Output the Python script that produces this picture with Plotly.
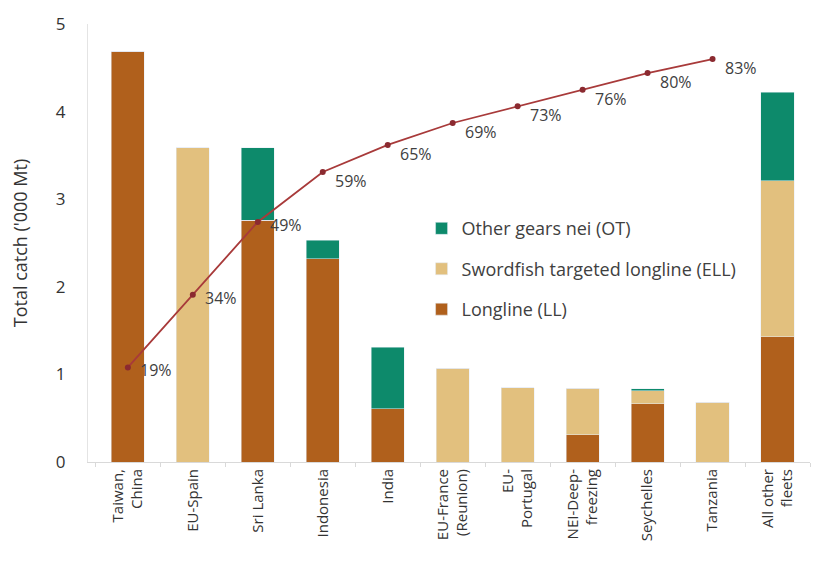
import plotly.graph_objects as go

fleets = ["Taiwan,<br>China", "EU-Spain", "Sri Lanka", "Indonesia", "India",
          "EU-France<br>(Reunion)", "EU-<br>Portugal", "NEI-Deep-<br>freezing",
          "Seychelles", "Tanzania", "All other<br>fleets"]
ll = [4.69, 0, 2.76, 2.32, 0.61, 0, 0, 0.31, 0.665, 0, 1.43]
ell = [0, 3.59, 0, 0, 0, 1.07, 0.85, 0.53, 0.15, 0.68, 1.78]
ot = [0, 0, 0.83, 0.21, 0.70, 0, 0, 0, 0.02, 0, 1.01]
cum_y = [1.08, 1.91, 2.74, 3.31, 3.62, 3.87, 4.06, 4.25, 4.44, 4.60]
cum_pct = ["19%", "34%", "49%", "59%", "65%", "69%", "73%", "76%", "80%", "83%"]

fig = go.Figure()
fig.add_bar(x=fleets, y=ll, name="Longline (LL)", marker_color="#B0601C",
            legendgroup="ll", legendrank=3)
fig.add_bar(x=fleets, y=ell, name="Swordfish targeted longline (ELL)", marker_color="#E2C07E",
            legendgroup="ell", legendrank=2)
fig.add_bar(x=fleets, y=ot, name="Other gears nei (OT)", marker_color="#0D8A6B",
            legendgroup="ot", legendrank=1)
fig.add_scatter(x=fleets[:10], y=cum_y, mode="lines+markers",
                line=dict(color="#A83A3A", width=1.8),
                marker=dict(color="#8B2A30", size=6), showlegend=False)

# percentage labels sit right of / below each point
for i, (f, v, t) in enumerate(zip(fleets, cum_y, cum_pct)):
    fig.add_annotation(x=f, y=v, text=t, showarrow=False, xanchor="left", yanchor="middle",
                       xshift=10, yshift=-3 if i < 3 else -9,
                       font=dict(size=16, color="#404040"))

fig.update_layout(
    width=827, height=554, barmode="stack", bargap=0.49,
    plot_bgcolor="white", paper_bgcolor="white",
    font=dict(family="Open Sans", color="#333333"),
    margin=dict(l=80, r=25, t=16, b=100, autoexpand=False),
    legend=dict(x=0.462, y=0.575, xanchor="left", yanchor="top",
                traceorder="grouped", tracegroupgap=14,
                font=dict(size=18, color="#404040"), bgcolor="rgba(0,0,0,0)"),
)
fig.update_xaxes(showline=True, linecolor="#d9d9d9", ticks="outside", tickson="boundaries",
                 tickcolor="#d9d9d9", ticklen=4, tickangle=-90, automargin=False,
                 tickfont=dict(size=15, color="#333333"))
fig.update_yaxes(range=[0, 5], dtick=1, showgrid=False, zeroline=False, showline=True,
                 linecolor="#e4e4e4", ticks="", ticklabelstandoff=18,
                 tickfont=dict(size=17, color="#333333"), automargin=False,
                 title=dict(text="Total catch ('000 Mt)", font=dict(size=18, color="#333333"), standoff=26))

fig.write_html("out.html")
